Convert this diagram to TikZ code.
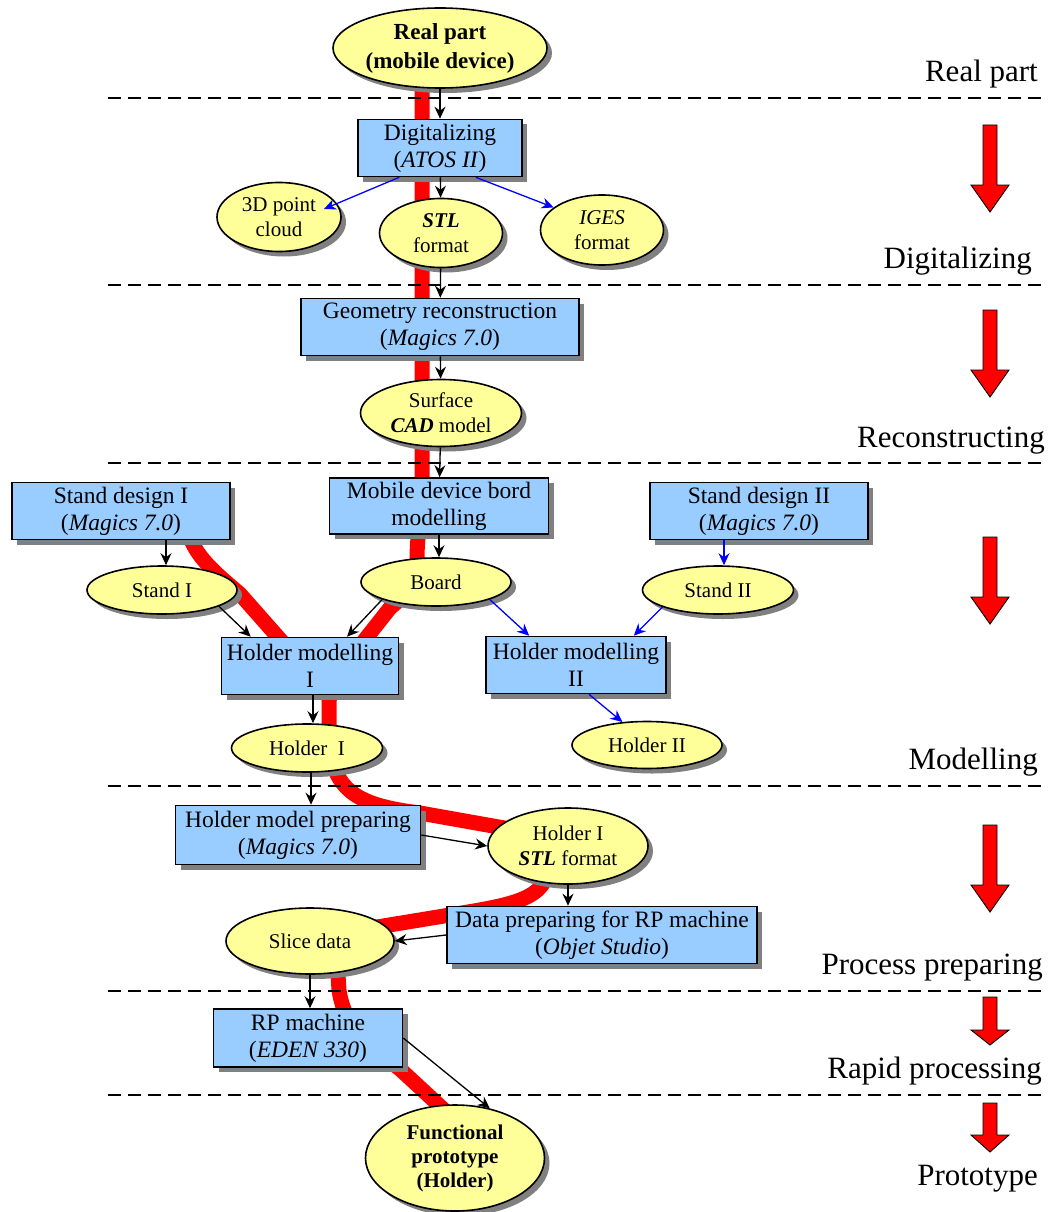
\documentclass[tikz,border=0pt]{standalone}
\usepackage{fontspec}
\setmainfont{Liberation Serif}
\usetikzlibrary{shapes.geometric,shadows,arrows.meta,backgrounds}
\definecolor{boxblue}{RGB}{153,204,255}
\definecolor{ovalyellow}{RGB}{255,255,153}

\begin{document}
\begin{tikzpicture}[x=1pt,y=-1pt,>={Stealth[length=12pt,width=11pt,inset=4pt]},
		conn/.style={->,line width=1.3pt},
		shadowed/.style={drop shadow={shadow xshift=5pt,shadow yshift=-5pt,fill=black!50,opacity=1}},
		box node/.style={rectangle,draw,line width=1.6pt,fill=boxblue,inner sep=0pt,align=center,shadowed,font=\fontsize{23.5}{27}\selectfont},
		oval node/.style={ellipse,draw,line width=1.6pt,fill=ovalyellow,inner sep=0pt,align=center,shadowed,font=\fontsize{21}{25}\selectfont},
		phase label/.style={anchor=base east,inner sep=0pt,font=\fontsize{31}{36}\selectfont},
		phase line/.style={dash pattern=on 13pt off 7pt,line width=1.4pt},
		phase arrow/.style={fill=red,draw=black,line width=0.9pt},
		red path/.style={red,line width=15pt}]
		\useasboundingbox (0,0) rectangle (1047,1212);
		% phases
		\foreach \y in {98,285,463,786,991,1095}
			\draw[phase line] (108,\y) -- (1047,\y);
		\foreach \ya/\yb/\yc in {125/185/212,310/370/397,537/597/624,825/885/912,997/1030/1045,1103/1135/1152}
			\draw[phase arrow] (983,\ya) -- (997,\ya) -- (997,\yb) -- (1009,\yb) -- (990,\yc) -- (971,\yb) -- (983,\yb) -- cycle;
		\node[phase label] (lab1) at (1038,82) {Real part};
		\node[phase label] (lab2) at (1032,268) {Digitalizing};
		\node[phase label] (lab3) at (1045,447) {Reconstructing};
		\node[phase label] (lab4) at (1038,769) {Modelling};
		\node[phase label] (lab5) at (1043,974) {Process preparing};
		\node[phase label] (lab6) at (1042,1078) {Rapid processing};
		\node[phase label] (lab7) at (1038,1185) {Prototype};
		
		% nodes
		\node[oval node,minimum width=214pt,minimum height=80pt,font=\fontsize{23}{29}\selectfont\bfseries] (real) at (440,48) {Real part\\(mobile device)};
		\node[box node,minimum width=164pt,minimum height=57pt] (dig) at (440,148) {Digitalizing\\(\textit{ATOS II})};
		\node[oval node,minimum width=124pt,minimum height=69pt] (cloud) at (279,217) {3D point\\cloud};
		\node[oval node,minimum width=123pt,minimum height=69pt] (stl) at (441,233) {\textbf{\textit{STL}}\\format};
		\node[oval node,minimum width=123pt,minimum height=70pt] (iges) at (602,230) {\textit{IGES}\\format};
		\node[box node,minimum width=278pt,minimum height=57pt] (geom) at (440,327) {Geometry reconstruction\\(\textit{Magics 7.0})};
		\node[oval node,minimum width=161pt,minimum height=67pt] (surf) at (441,413) {Surface\\\textbf{\textit{CAD}} model};
		\node[box node,minimum width=218pt,minimum height=57pt] (sd1) at (121,511) {Stand design I\\(\textit{Magics 7.0})};
		\node[box node,minimum width=219pt,minimum height=56pt] (mob) at (439,506) {Mobile device bord\\modelling};
		\node[box node,minimum width=218pt,minimum height=57pt] (sd2) at (759,511) {Stand design II\\(\textit{Magics 7.0})};
		\node[oval node,minimum width=150pt,minimum height=48pt] (st1) at (162,590) {Stand I};
		\node[oval node,minimum width=150pt,minimum height=48pt] (board) at (436,582) {Board};
		\node[oval node,minimum width=151pt,minimum height=48pt] (st2) at (718,590) {Stand II};
		\node[box node,minimum width=177pt,minimum height=57pt] (hm1) at (310,666) {Holder modelling\\I};
		\node[box node,minimum width=180pt,minimum height=57pt] (hm2) at (576,665) {Holder modelling\\II};
		\node[oval node,minimum width=151pt,minimum height=48pt] (h1) at (307,748) {Holder~ I};
		\node[oval node,minimum width=150pt,minimum height=47pt] (h2) at (647,745) {Holder II};
		\node[box node,minimum width=245pt,minimum height=59pt] (hmp) at (298,835) {Holder model preparing\\(\textit{Magics 7.0})};
		\node[oval node,minimum width=160pt,minimum height=76pt] (h1stl) at (568,846) {Holder I\\\textbf{\textit{STL}} format};
		\node[box node,minimum width=310pt,minimum height=57pt] (dp) at (602,935) {Data preparing for RP machine\\(\textit{Objet Studio})};
		\node[oval node,minimum width=168pt,minimum height=66pt] (slice) at (310,941) {Slice data};
		\node[box node,minimum width=189pt,minimum height=58pt] (rp) at (308,1038) {RP machine\\(\textit{EDEN 330})};
		\node[oval node,minimum width=179pt,minimum height=106pt,font=\fontsize{21}{24}\selectfont\bfseries] (func) at (455,1158) {Functional\\prototype\\(Holder)};
		
		% main process line
		\begin{pgfonlayer}{background}
		\draw[red path] (422,60) -- (422,490) .. controls (422,520) and (417,530) .. (417,560)
			.. controls (417,585) and (405,595) .. (390,608) -- (367,637)
			.. controls (340,672) and (329,685) .. (329,705) -- (329,735)
			.. controls (331,790) and (355,805) .. (420,813) -- (510,829)
			.. controls (540,835) and (548,850) .. (548,865)
			.. controls (548,900) and (510,905) .. (450,915) -- (377,927)
			.. controls (340,933) and (336,945) .. (337,960) -- (339,990)
			.. controls (345,1030) and (370,1045) .. (401,1070) -- (455,1120);
		\draw[red path] (186,520) .. controls (189,552) and (212,570) .. (240,594) -- (300,662);
		\end{pgfonlayer}
		
		\path[conn]
		(real) edge (dig)
		(dig) edge (stl)
		(stl) edge (geom)
		(geom) edge (surf)
		(surf) edge (mob)
		(mob.south) edge (mob.south |- board.north)
		([xshift=45pt]sd1.south) edge ([xshift=4pt]st1.north)
		(st1.-16) edge ([xshift=30pt]hm1.north west)
		(board.198) edge ([xshift=37pt]hm1.north)
		([xshift=3pt]hm1.south) edge ([xshift=6pt]h1.north)
		([xshift=4pt]h1.south) edge ([xshift=13pt]hmp.north)
		(hmp.east) edge (h1stl.west)
		(h1stl.south) edge (h1stl.south |- dp.north)
		(dp.west) edge (slice.east)
		(slice.south) edge (slice.south |- rp.north)
		(rp.east) edge (func.55);
		\path[conn,blue]
		([xshift=42pt]dig.south west) edge ([shift={(45,-8)}]cloud.center)
		([xshift=-47pt]dig.south east) edge (iges.155)
		(board.-18) edge ([xshift=44pt]hm2.north west)
		([xshift=-35pt]sd2.south) edge ([xshift=6pt]st2.north)
		(st2.197) edge ([xshift=-33pt]hm2.north east)
		([xshift=13pt]hm2.south) edge (h2.137);
\end{tikzpicture}
\end{document}
